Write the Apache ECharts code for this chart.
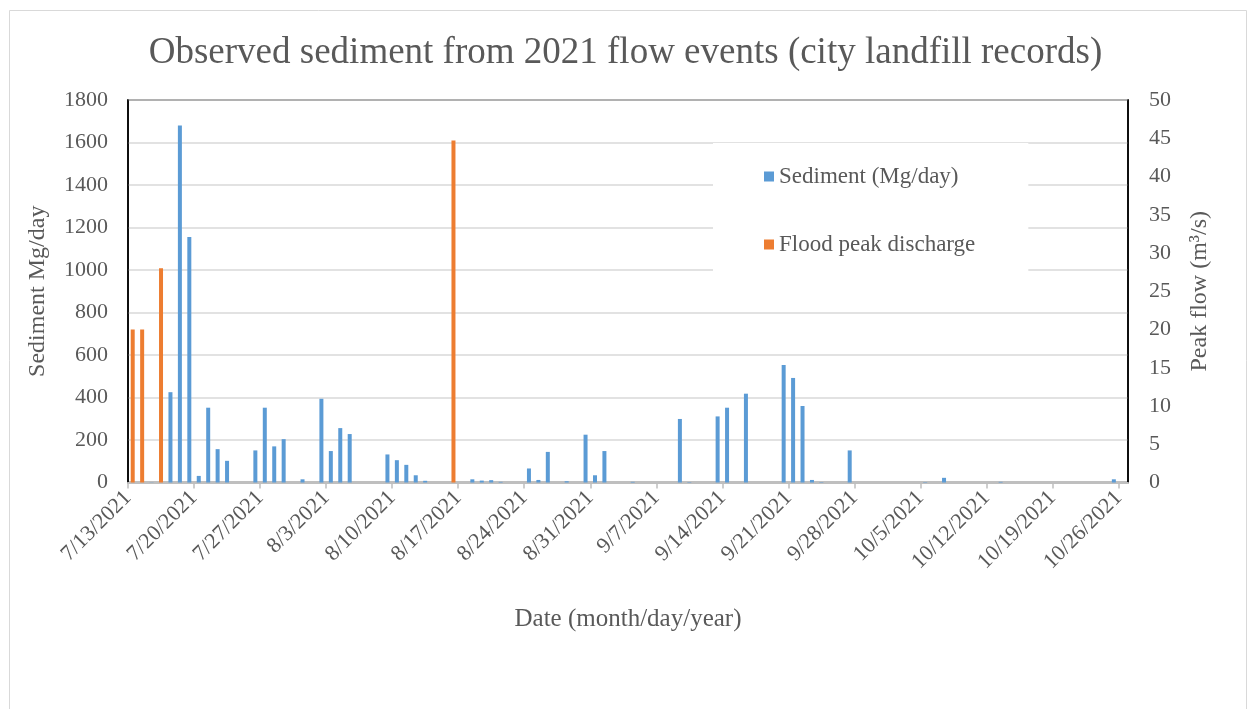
<!DOCTYPE html>
<html>
<head>
<meta charset="utf-8">
<script src="https://cdn.jsdelivr.net/npm/echarts@6/dist/echarts.min.js"></script>
<style>
html,body{margin:0;padding:0;background:#fff;}
#chart{width:1251px;height:709px;}
</style>
</head>
<body>
<div id="chart"></div>
<script>
// ---- data ----
const startDate = '2021-07-13';
const totalDays = 106;
const xTickLabels = ['7/13/2021','7/20/2021','7/27/2021','8/3/2021','8/10/2021','8/17/2021','8/24/2021','8/31/2021','9/7/2021','9/14/2021','9/21/2021','9/28/2021','10/5/2021','10/12/2021','10/19/2021','10/26/2021'];
const sedimentDates = ['7/15','7/17','7/18','7/19','7/20','7/21','7/22','7/23','7/26','7/27','7/28','7/29','7/31','8/2','8/3','8/4','8/5','8/9','8/10','8/11','8/12','8/13','8/18','8/19','8/20','8/21','8/24','8/25','8/26','8/28','8/30','8/31','9/1','9/4','9/9','9/10','9/13','9/14','9/16','9/20','9/21','9/22','9/23','9/24','9/27','10/5','10/7','10/13','10/25'];
const sedimentValues = [1,425,1680,1155,31,352,157,102,151,352,170,204,15,394,148,256,228,132,105,83,34,8,15,9,11,3,66,12,144,6,225,34,148,3,299,2,311,352,418,553,492,360,12,2,151,2,22,3,15];
const floodDates = ['7/13','7/14','7/16','8/16'];
const floodValues = [20,20,28,44.7];

// ---- helpers ----
const t0 = Date.UTC(2021, 6, 13);
function dayIndex(md){
  const p = md.split('/');
  return Math.round((Date.UTC(2021, +p[0]-1, +p[1]) - t0) / 86400000);
}
const sedimentData = sedimentDates.map((d,i)=>[dayIndex(d)+0.5, sedimentValues[i]]);
const floodData = floodDates.map((d,i)=>[dayIndex(d)+0.5, floodValues[i]]);

const serif = '"Liberation Serif","Times New Roman",serif';
const txt = '#595959';

const chart = echarts.init(document.getElementById('chart'));
chart.setOption({
  animation:false,
  backgroundColor:'#fff',
  title:{
    text:'Observed sediment from 2021 flow events (city landfill records)',
    left:'center', top:30,
    textStyle:{fontFamily:serif, fontSize:37, fontWeight:'normal', color:txt}
  },
  graphic:[{type:'rect', left:7, top:8, shape:{width:1237, height:720}, style:{fill:'none', stroke:'#d9d9d9', lineWidth:1}, silent:true, z:-10}],
  grid:{left:128, right:123, top:100, bottom:226.5, show:true, borderColor:'#000', borderWidth:1.5, containLabel:false},
  legend:{
    orient:'vertical', left:713, top:143,
    padding:[22,53,26,51], itemGap:45,
    backgroundColor:'#fff',
    itemWidth:10, itemHeight:10, icon:'rect', itemStyle:{borderWidth:0},
    textStyle:{fontFamily:serif, fontSize:23, color:txt},
    data:['Sediment (Mg/day)','Flood peak discharge']
  },
  xAxis:{
    type:'value', min:0, max:totalDays, interval:7,
    name:'Date (month/day/year)', nameLocation:'middle', nameGap:124,
    nameTextStyle:{fontFamily:serif, fontSize:25, color:txt},
    axisLine:{show:true, lineStyle:{color:'#bfbfbf', width:2}},
    axisTick:{show:true, length:6, lineStyle:{color:'#bfbfbf', width:1.5}},
    splitLine:{show:false},
    axisLabel:{rotate:45, margin:12, showMaxLabel:false, fontFamily:serif, fontSize:22, color:txt,
      formatter:function(v){ const i = Math.round(v/7); return (v % 7 === 0 && xTickLabels[i]) ? xTickLabels[i] : ''; }}
  },
  yAxis:[{
    type:'value', min:0, max:1800, interval:200,
    name:'Sediment Mg/day', nameLocation:'middle', nameGap:78,
    nameTextStyle:{fontFamily:serif, fontSize:24, color:txt},
    axisLine:{show:true, lineStyle:{color:'#000', width:1.5}},
    axisTick:{show:false},
    splitLine:{show:true, lineStyle:{color:'#d9d9d9', width:1.5}},
    axisLabel:{margin:20, fontFamily:serif, fontSize:22, color:txt, formatter:function(v){return String(v);}}
  },{
    type:'value', min:0, max:50, interval:5, position:'right',
    name:'Peak flow (m³/s)', nameLocation:'middle', nameGap:60,
    nameTextStyle:{fontFamily:serif, fontSize:24, color:txt},
    axisLine:{show:true, lineStyle:{color:'#000', width:1.5}},
    axisTick:{show:false},
    splitLine:{show:false},
    axisLabel:{margin:21, fontFamily:serif, fontSize:22, color:txt, formatter:function(v){return String(v);}}
  }],
  series:[{
    name:'Sediment (Mg/day)', type:'bar', yAxisIndex:0, data:sedimentData,
    barWidth:4, barGap:'-100%', itemStyle:{color:'#5b9bd5'}
  },{
    name:'Flood peak discharge', type:'bar', yAxisIndex:1, data:floodData,
    barWidth:4, barGap:'-100%', itemStyle:{color:'#ed7d31'}
  }]
});
</script>
</body>
</html>
